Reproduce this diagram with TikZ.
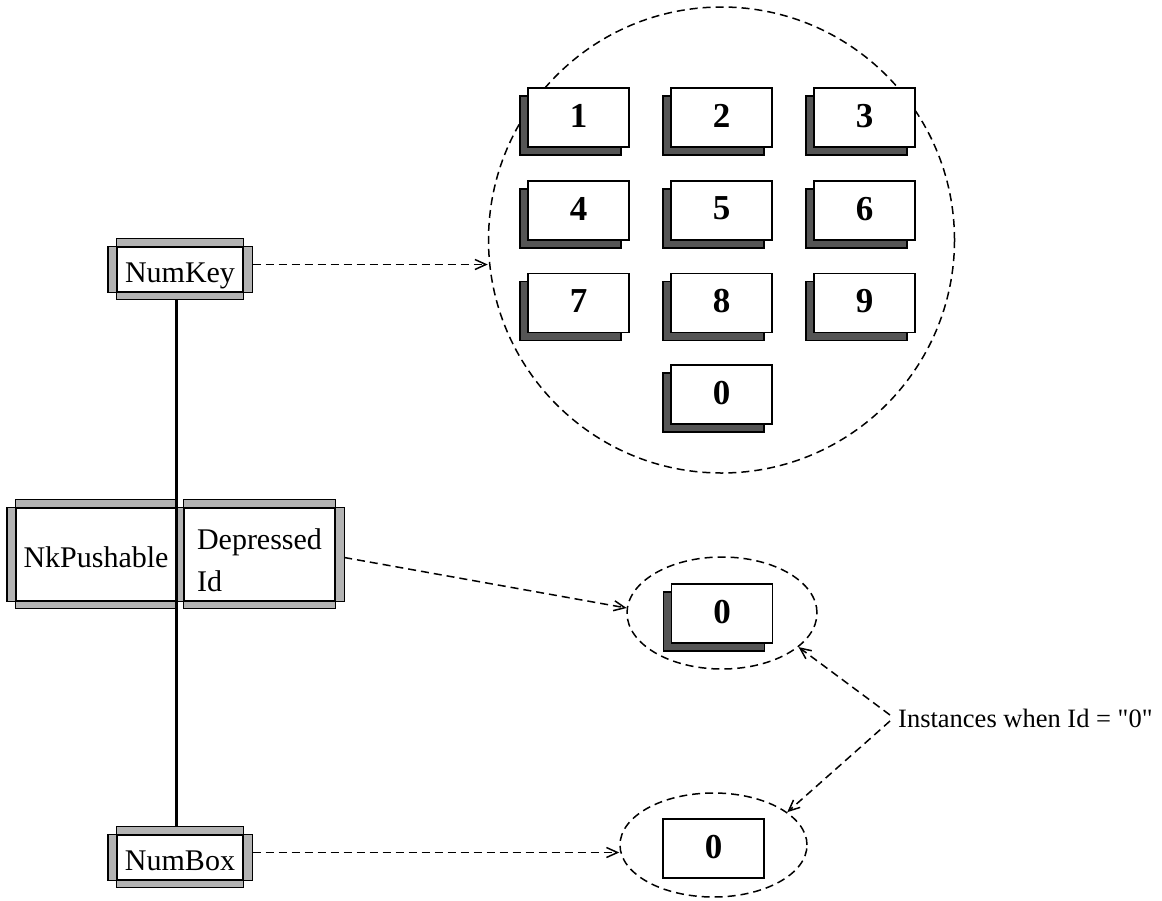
\documentclass[tikz,border=0pt]{standalone}
\usepackage{fontspec}
\setmainfont{Liberation Serif}
% same face without the TeX quote mapping, so " stays a straight quote
\newfontfamily\plainquotes{Liberation Serif}[Ligatures=TeXOff]
\usetikzlibrary{arrows.meta,shapes.geometric,calc,backgrounds,shadows}

\definecolor{barGray}{HTML}{B3B3B3}
\definecolor{keyShadow}{HTML}{555555}

\tikzset{
  every node/.style={font=\fontsize{30}{42}\selectfont},
  cls/.style={draw, fill=white, line width=1.4pt, inner sep=0pt},
  keybox/.style={draw, fill=white, line width=1.4pt, minimum width=101pt,
    minimum height=59pt, inner sep=0pt, text depth=4pt,
    font=\fontsize{35}{40}\selectfont\bfseries},
  shadowed/.style={general shadow={shadow xshift=-8pt, shadow yshift=-8pt,
    fill=keyShadow, draw=black, line width=1.2pt}},
  group/.style={draw, line width=1.5pt, dash pattern=on 8pt off 5pt, inner sep=0pt},
  link/.style={line width=1.5pt, dash pattern=on 8pt off 5pt,
    -{Straight Barb[length=11pt,width=10pt]}},
  trunk/.style={line width=2.8pt},
}

% grey frame bars behind a class box
\newcommand\classbars[1]{%
  \begin{pgfonlayer}{background}
    \draw[fill=barGray, line width=1.4pt] ([yshift=8pt]#1.north west) rectangle ([yshift=-7pt]#1.south east);
    \draw[fill=barGray, line width=1.4pt] ([xshift=-8.5pt]#1.north west) rectangle ([xshift=8.5pt]#1.south east);
  \end{pgfonlayer}}

\begin{document}
\begin{tikzpicture}[x=1pt,y=-1pt]
\useasboundingbox (0,0) rectangle (1162,900);

% class boxes
\node[cls, minimum width=126pt, minimum height=45pt, text height=26pt, text depth=0pt] (NumKey) at (180,269.5) {NumKey};
\classbars{NumKey}
\node[cls, minimum width=160pt, minimum height=93pt, text height=26pt, text depth=0pt] (nk) at (96,554.5) {NkPushable};
\classbars{nk}
\node[cls, minimum width=151pt, minimum height=93pt, align=left] (dep) at (259.5,554.5) {\rule{0pt}{32.5pt}Depressed\\Id};
\classbars{dep}
\node[cls, minimum width=126pt, minimum height=45pt, text height=26pt, text depth=0pt] (NumBox) at (180,857.5) {NumBox};
\classbars{NumBox}

\draw[trunk] ($(NumKey.south -| nk.east)+(0,7)$) -- ($(NumBox.north -| nk.east)+(0,-8)$);

% key pad
\node[group, circle, minimum size=466pt] (keypad) at (721.5,240) {};
\foreach \n/\x/\y in {1/578.5/117.5, 2/721.5/117.5, 3/864.5/117.5,
                      4/578.5/210.5, 5/721.5/210.5, 6/864.5/210.5,
                      7/578.5/303,   8/721.5/303,   9/864.5/303,
                      0/721.5/394.5}
  \node[keybox, shadowed] (k\n) at (\x,\y) {\n};

% single instances
\node[group, ellipse, minimum width=190pt, minimum height=112pt] (e1) at (722,613) {};
\node[keybox, shadowed] (kd) at (722,613.5) {0};
\node[group, ellipse, minimum width=187pt, minimum height=104pt] (e2) at (713.5,845) {};
\node[keybox] (kb) at (713.5,848.5) {0};

\node[anchor=west, inner xsep=8pt, inner ysep=0pt, font=\plainquotes\fontsize{26.5}{32}\selectfont] (inst) at (890,718) {Instances when Id = "0"};

% connectors
\coordinate (nkOut) at ($(NumKey.east)+(9,-5)$);
\draw[link] (nkOut) -- (nkOut -| keypad.west);
\draw[link] ($(dep.east)+(8.5,3)$) -- (e1.177);
\coordinate (nbOut) at ($(NumBox.east)+(9,-5)$);
\draw[link] (nbOut) -- (nbOut -| e2.west);
\draw[link] ([yshift=3pt]inst.west) -- (e1.-24);
\draw[link] ([yshift=-3pt]inst.west) -- (e2.24);
\end{tikzpicture}
\end{document}
